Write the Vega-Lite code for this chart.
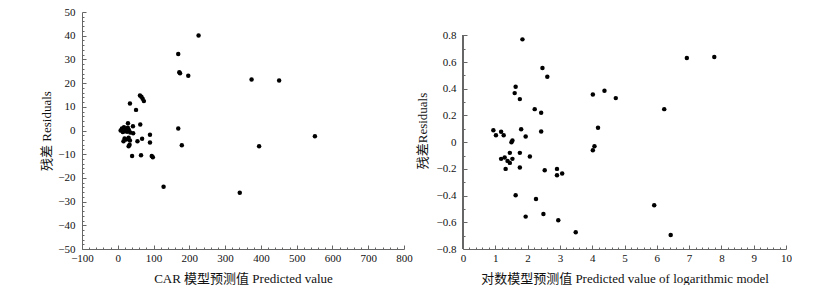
{
  "$schema": "https://vega.github.io/schema/vega-lite/v6.json",
  "padding": {"left": 40, "top": 6, "right": 0, "bottom": 0},
  "spacing": 3,
  "config": {
    "view": {"stroke": null},
    "font": "Liberation Serif",
    "axis": {
      "domainColor": "#666",
      "tickColor": "#666",
      "labelFont": "Liberation Serif, Times New Roman, serif",
      "labelFontSize": 11,
      "labelColor": "#111",
      "titleFont": "Liberation Serif, Noto Sans CJK SC",
      "titleFontSize": 13,
      "titleFontWeight": "normal",
      "titleColor": "#111",
      "grid": false,
      "labelFlush": false,
      "labelOverlap": false,
      "tickWidth": 1
    }
  },
  "hconcat": [
    {
      "width": 322,
      "height": 237,
      "data": {"values": [
        {"predicted": 225.8, "residual": 40.1},
        {"predicted": 169, "residual": 32.3},
        {"predicted": 172, "residual": 24.6},
        {"predicted": 174, "residual": 24.2},
        {"predicted": 197, "residual": 23.1},
        {"predicted": 374, "residual": 21.5},
        {"predicted": 451, "residual": 21.1},
        {"predicted": 551, "residual": -2.4},
        {"predicted": 395, "residual": -6.6},
        {"predicted": 341, "residual": -26.3},
        {"predicted": 128, "residual": -23.7},
        {"predicted": 169, "residual": 0.8},
        {"predicted": 179, "residual": -6.2},
        {"predicted": 34, "residual": 11.4},
        {"predicted": 62, "residual": 14.8},
        {"predicted": 66, "residual": 14.2},
        {"predicted": 69.5, "residual": 13.4},
        {"predicted": 73, "residual": 12.4},
        {"predicted": 51, "residual": 8.7},
        {"predicted": 28.5, "residual": 3.1},
        {"predicted": 62.8, "residual": 2.5},
        {"predicted": 42.4, "residual": 1.8},
        {"predicted": 43, "residual": -1.2},
        {"predicted": 55, "residual": -4.5},
        {"predicted": 68, "residual": -3.5},
        {"predicted": 90, "residual": -1.8},
        {"predicted": 90, "residual": -5.1},
        {"predicted": 40, "residual": -10.8},
        {"predicted": 65, "residual": -10.4},
        {"predicted": 95, "residual": -10.8},
        {"predicted": 98, "residual": -11.3},
        {"predicted": 8, "residual": 0},
        {"predicted": 11.7, "residual": 0.85},
        {"predicted": 17.3, "residual": 1.4},
        {"predicted": 19, "residual": -0.3},
        {"predicted": 23.8, "residual": 0.4},
        {"predicted": 14, "residual": -0.6},
        {"predicted": 28, "residual": 1.2},
        {"predicted": 31, "residual": 0.2},
        {"predicted": 35, "residual": -0.8},
        {"predicted": 26, "residual": -0.5},
        {"predicted": 19, "residual": -3.4},
        {"predicted": 23.8, "residual": -3.8},
        {"predicted": 30.4, "residual": -3.1},
        {"predicted": 34, "residual": -4.2},
        {"predicted": 16, "residual": -4.5},
        {"predicted": 30.4, "residual": -6.6},
        {"predicted": 33, "residual": -6}
      ]},
      "mark": {"type": "circle", "size": 20, "color": "#000", "opacity": 1},
      "encoding": {
        "x": {
          "field": "predicted", "type": "quantitative",
          "scale": {"domain": [-100, 800], "nice": false, "zero": false},
          "axis": {
            "title": "CAR 模型预测值 Predicted value",
            "values": [-100,-80,-60,-40,-20,0,20,40,60,80,100,120,140,160,180,200,220,240,260,280,300,320,340,360,380,400,420,440,460,480,500,520,540,560,580,600,620,640,660,680,700,720,740,760,780,800],
            "labelExpr": "abs(datum.value % 100) < 1e-6 ? format(datum.value, '~g') : ''",
            "tickSize": {"condition": {"test": "abs(datum.value % 100) < 1e-6", "value": -4}, "value": -2},
            "labelPadding": 7,
            "titlePadding": 7
          }
        },
        "y": {
          "field": "residual", "type": "quantitative",
          "scale": {"domain": [-50, 50], "nice": false, "zero": false},
          "axis": {
            "title": "残差 Residuals",
            "values": [-50,-48,-46,-44,-42,-40,-38,-36,-34,-32,-30,-28,-26,-24,-22,-20,-18,-16,-14,-12,-10,-8,-6,-4,-2,0,2,4,6,8,10,12,14,16,18,20,22,24,26,28,30,32,34,36,38,40,42,44,46,48,50],
            "labelExpr": "abs(datum.value % 10) < 1e-6 ? format(datum.value, '~g') : ''",
            "tickSize": {"condition": {"test": "abs(datum.value % 10) < 1e-6", "value": -4}, "value": -2},
            "labelPadding": 11,
            "titlePadding": 4
          }
        }
      }
    },
    {
      "width": 323,
      "height": 237,
      "data": {"values": [
        {"predicted": 1.84, "residual": 0.77},
        {"predicted": 2.46, "residual": 0.555},
        {"predicted": 2.61, "residual": 0.49},
        {"predicted": 6.93, "residual": 0.63},
        {"predicted": 7.78, "residual": 0.6375},
        {"predicted": 1.63, "residual": 0.415},
        {"predicted": 1.6, "residual": 0.3675},
        {"predicted": 1.76, "residual": 0.3225},
        {"predicted": 2.22, "residual": 0.2475},
        {"predicted": 2.42, "residual": 0.22},
        {"predicted": 4.02, "residual": 0.3575},
        {"predicted": 4.38, "residual": 0.385},
        {"predicted": 4.73, "residual": 0.33},
        {"predicted": 6.23, "residual": 0.2475},
        {"predicted": 4.18, "residual": 0.1075},
        {"predicted": 0.94, "residual": 0.09},
        {"predicted": 1.02, "residual": 0.0525},
        {"predicted": 1.18, "residual": 0.0775},
        {"predicted": 1.26, "residual": 0.0525},
        {"predicted": 1.8, "residual": 0.0975},
        {"predicted": 1.94, "residual": 0.0425},
        {"predicted": 2.42, "residual": 0.08},
        {"predicted": 1.5, "residual": 0},
        {"predicted": 1.53, "residual": 0.0125},
        {"predicted": 4.07, "residual": -0.03},
        {"predicted": 4.02, "residual": -0.06},
        {"predicted": 1.45, "residual": -0.08},
        {"predicted": 1.76, "residual": -0.08},
        {"predicted": 2.07, "residual": -0.1075},
        {"predicted": 1.18, "residual": -0.125},
        {"predicted": 1.29, "residual": -0.115},
        {"predicted": 1.38, "residual": -0.14},
        {"predicted": 1.45, "residual": -0.155},
        {"predicted": 1.53, "residual": -0.125},
        {"predicted": 1.32, "residual": -0.2},
        {"predicted": 1.76, "residual": -0.19},
        {"predicted": 2.53, "residual": -0.21},
        {"predicted": 2.91, "residual": -0.2},
        {"predicted": 2.91, "residual": -0.2475},
        {"predicted": 3.07, "residual": -0.235},
        {"predicted": 1.63, "residual": -0.3975},
        {"predicted": 2.26, "residual": -0.425},
        {"predicted": 1.94, "residual": -0.5575},
        {"predicted": 2.49, "residual": -0.5375},
        {"predicted": 2.95, "residual": -0.585},
        {"predicted": 3.49, "residual": -0.675},
        {"predicted": 5.92, "residual": -0.4725},
        {"predicted": 6.43, "residual": -0.695}
      ]},
      "encoding": {
        "x": {
          "field": "predicted", "type": "quantitative",
          "scale": {"domain": [0, 10], "nice": false, "zero": false},
          "axis": {
            "title": "对数模型预测值 Predicted value of logarithmic model",
            "values": [0,0.2,0.4,0.6,0.8,1,1.2,1.4,1.6,1.8,2,2.2,2.4,2.6,2.8,3,3.2,3.4,3.6,3.8,4,4.2,4.4,4.6,4.8,5,5.2,5.4,5.6,5.8,6,6.2,6.4,6.6,6.8,7,7.2,7.4,7.6,7.8,8,8.2,8.4,8.6,8.8,9,9.2,9.4,9.6,9.8,10],
            "labelExpr": "abs(datum.value - round(datum.value)) < 1e-6 ? format(datum.value, '~g') : ''",
            "tickSize": {"condition": {"test": "abs(datum.value - round(datum.value)) < 1e-6", "value": -4}, "value": -2},
            "labelPadding": 7,
            "titlePadding": 7
          }
        },
        "y": {
          "field": "residual", "type": "quantitative",
          "scale": {"domain": [-0.8, 0.975], "nice": false, "zero": false},
          "axis": {
            "title": "残差Residuals",
            "domain": false,
            "values": [-0.8,-0.7,-0.6,-0.5,-0.4,-0.3,-0.2,-0.1,0,0.1,0.2,0.3,0.4,0.5,0.6,0.7,0.8],
            "labelExpr": "round(datum.value * 10) % 2 === 0 ? format(datum.value, '~g') : ''",
            "tickSize": {"condition": {"test": "round(datum.value * 10) % 2 === 0", "value": -4}, "value": -2},
            "labelPadding": 11,
            "titlePadding": 7
          }
        }
      },
      "layer": [
        {
          "mark": {"type": "rule", "color": "#666", "strokeWidth": 1},
          "encoding": {
            "x": {"datum": 0},
            "y": {"datum": -0.8},
            "y2": {"datum": 0.8}
          }
        },
        {
          "mark": {"type": "circle", "size": 20, "color": "#000", "opacity": 1}
        }
      ]
    }
  ]
}
